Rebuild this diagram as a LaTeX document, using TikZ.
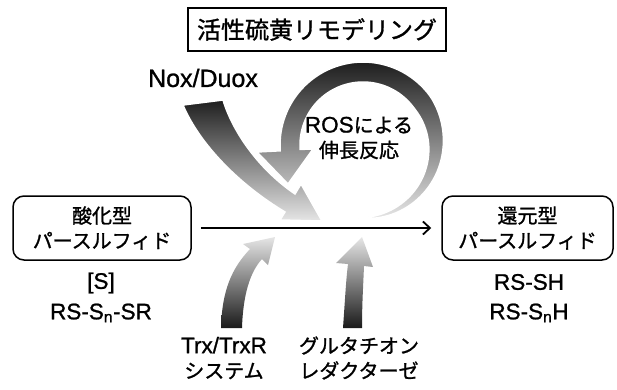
\documentclass[tikz,border=0pt]{standalone}
\usepackage{fontspec}
\setmainfont{Noto Sans CJK JP}[FakeBold=1.2]
\newfontfamily\lat{Liberation Sans}[FakeBold=1.0]
\usetikzlibrary{arrows.meta}
\newcommand\jpsz{\fontsize{20}{25}\selectfont}
\newcommand\latsz{\lat\fontsize{22.5}{25}\selectfont}
\begin{document}
\begin{tikzpicture}[x=1pt,y=-1pt,
  declare function={hw(\t)=10*min(1,(\t+95)/130);},
  titlebox/.style={draw, line width=1.8pt, minimum width=258pt, minimum height=43pt, inner sep=0pt, font=\fontsize{24}{28}\selectfont},
  pbox/.style={draw, line width=1.5pt, rounded corners=11pt, inner sep=0pt, minimum height=64pt, align=center, font=\jpsz},
  lbl/.style={inner sep=0pt, align=center, font=\jpsz},
  latlbl/.style={inner sep=0pt, align=center, font=\latsz},
  darktop/.style={shade, top color=black!88, bottom color=black!10, draw=white, line width=1.5pt},
  darkbot/.style={shade, top color=black!10, bottom color=black!90},
  mainarrow/.style={line width=2pt, -{Straight Barb[length=7pt,width=13pt,line width=1.8pt]}}
]
\useasboundingbox (0,0) rectangle (617,389);

% title
\node[titlebox] (title) at (317,29.5) {活性硫黄リモデリング};

% Nox/Duox gradient arrow
\path[darktop] (183,105) .. controls (200,145) and (240,185) .. (285,212)
  -- (280,220) -- (322,221) -- (301,184) -- (295,194)
  .. controls (257,168) and (232,130) .. (223,100) -- cycle;

% ROS loop arrow
\path[darktop]
  plot[domain=-95:184,samples=90,variable=\t] ({363+(73+hw(\t))*cos(\t)},{145-(73+hw(\t))*sin(\t)})
  -- (257,152) -- (288,184) -- (313,149)
  -- plot[domain=184:-95,samples=90,variable=\t] ({363+(73-hw(\t))*cos(\t)},{145-(73-hw(\t))*sin(\t)})
  -- cycle;

% Trx/TrxR arrow
\path[darkbot] (221,328) .. controls (222,290) and (232,268) .. (250,249)
  -- (243,244) -- (275,237) -- (268,265) -- (262,259)
  .. controls (250,272) and (243,295) .. (242,328) -- cycle;

% glutathione reductase arrow
\path[darkbot] (343,328) .. controls (345,300) and (346,280) .. (348,264)
  -- (336,263) -- (362,237) -- (373,267) -- (364,266)
  .. controls (363,290) and (362,305) .. (362,328) -- cycle;

% texts
\node[latlbl, font=\lat\fontsize{25}{28}\selectfont] (nox) at (203,78) {Nox/Duox};
\node[lbl] (ros) at (359,138) {{\latsz ROS}による\\伸長反応};

% boxes
\node[pbox, minimum width=178pt] (ox) at (102,228) {酸化型\\パースルフィド};
\node[pbox, minimum width=171pt] (red) at (527.5,228) {還元型\\パースルフィド};

\draw[mainarrow, shorten <=9pt, shorten >=10pt] (ox.east) -- (red.west);

\node[latlbl] (s) at (101,283) {[S]};
\node[latlbl] (rssr) at (101,313) {RS-S\textsubscript{n}-SR};
\node[latlbl] (rssh) at (529,282) {RS-SH};
\node[latlbl] (rssnh) at (529,313) {RS-S\textsubscript{n}H};

\node[lbl] (trx) at (224,358) {{\latsz Trx/TrxR}\\システム};
\node[lbl] (gr) at (359,358) {グルタチオン\\レダクターゼ};
\end{tikzpicture}
\end{document}
